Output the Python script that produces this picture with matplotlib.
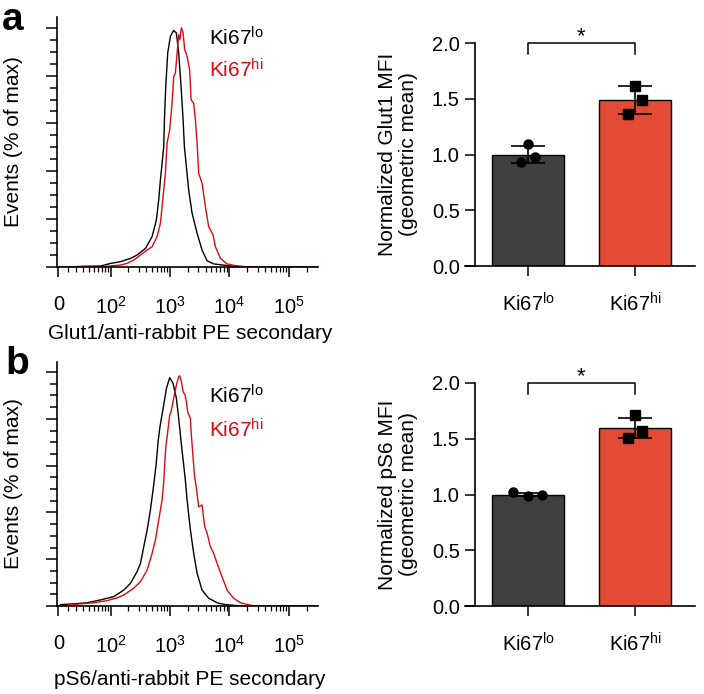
import numpy as np
import matplotlib
matplotlib.use("Agg")
import matplotlib.pyplot as plt
from matplotlib.ticker import FixedLocator, NullFormatter

plt.rcParams['font.family'] = ['Liberation Sans', 'DejaVu Sans']
plt.rcParams['mathtext.fontset'] = 'custom'
plt.rcParams['mathtext.rm'] = 'Liberation Sans'
plt.rcParams['mathtext.default'] = 'regular'

# ---- histogram data (fluorescence, % of max) ----
glut1_lo_x = [1, 10, 30, 66, 99, 146, 217, 281, 389, 503, 594, 650, 694, 741, 789, 811,
              853, 921, 1021, 1161, 1288, 1409, 1546, 1671, 1758, 1897, 2074, 2366,
              2873, 3483, 4230, 5461, 7940, 12640, 20000, 300000]
glut1_lo_y = [0, 0, 0.3, 0.4, 1.5, 2.2, 3.6, 5.0, 7.8, 12.7, 19.7, 28.0, 36.4, 43.4, 50.3, 61.5,
              75.4, 89.4, 96.4, 98.9, 97.8, 89.4, 75.4, 61.5, 50.3, 42.0, 32.2, 22.5,
              14.1, 7.1, 2.6, 1.3, 0.8, 0.2, 0, 0]
glut1_hi_x = [1, 30, 66, 146, 190, 246, 320, 415, 503, 611, 694, 771, 842, 900, 995, 1091,
              1161, 1239, 1355, 1409, 1476, 1564, 1671, 1778, 1875, 1950, 2157, 2277,
              2518, 2692, 2873, 3055, 3483, 3960, 4500, 5336, 5834, 7080, 9170, 11830,
              18620, 300000]
glut1_hi_y = [0, 0, 0.1, 0.8, 1.5, 2.9, 5.0, 7.1, 8.5, 12.7, 18.3, 29.4, 39.2, 51.8, 57.3, 68.5,
              79.6, 81.0, 92.2, 97.1, 95.0, 100, 97.8, 90.8, 89.4, 88.0, 82.4, 69.9,
              68.5, 61.5, 51.8, 39.2, 35.0, 25.2, 16.9, 13.4, 8.5, 3.6, 1.3, 0.7,
              0.1, 0]

ps6_lo_x = [1, 2.1, 16.8, 36.3, 65.7, 112, 167, 217, 281, 320, 364, 415, 471, 540, 587, 635,
            676, 721, 789, 876, 995, 1134, 1288, 1409, 1546, 1710, 1825, 1950, 2218,
            2518, 2873, 3483, 4500, 6226, 8036, 12640, 20000, 300000]
ps6_lo_y = [0, 0.6, 0.9, 1.4, 2.6, 4.0, 6.8, 9.7, 14.7, 18.2, 25.3, 32.5, 41.0, 52.5, 60.3, 70.2,
            75.9, 80.2, 85.9, 93.0, 97.6, 95.2, 88.8, 80.2, 70.2, 60.3, 53.8, 45.3, 32.5,
            22.5, 14.0, 6.8, 3.3, 1.4, 0.7, 0.2, 0, 0]
ps6_hi_x = [1, 25.7, 49.4, 86, 129, 167, 246, 320, 415, 503, 572, 650, 741, 794, 818, 853,
            921, 995, 1050, 1161, 1288, 1409, 1465, 1546, 1671, 1804, 1897, 1995, 2218,
            2277, 2421, 2588, 2795, 3055, 3483, 3852, 4230, 4806, 5461, 6226, 7553,
            9170, 11830, 15340, 19870, 26000, 300000]
ps6_hi_y = [0, 0.9, 1.4, 2.3, 3.5, 4.7, 7.6, 10.4, 15.4, 22.5, 28.2, 36.8, 45.3, 53.8, 60.3, 67.4,
            74.5, 81.6, 83.0, 88.8, 94.4, 98.0, 98.4, 96.6, 91.6, 90.2, 87.3, 83.0, 80.2,
            74.5, 65.9, 56.0, 50.3, 42.4, 43.2, 33.9, 31.1, 25.3, 22.5, 18.2, 12.5,
            6.8, 3.3, 1.4, 0.7, 0, 0]

hist_major = [0, 1e2, 1e3, 1e4, 1e5]
hist_major_labels = ['0', '$10^{2}$', '$10^{3}$', '$10^{4}$', '$10^{5}$']
hist_minor = [k * 10 ** n for n in range(1, 6) for k in range(1, 10)
              if k * 10 ** n not in hist_major and k * 10 ** n < 3e5]

# ---- bar chart data ----
groups = ['Ki67$^{lo}$', 'Ki67$^{hi}$']
glut1_mean = [1.00, 1.49]
glut1_sd = [0.08, 0.125]
glut1_pts = [[1.09, 0.93, 0.98], [1.61, 1.49, 1.36]]
ps6_mean = [1.00, 1.60]
ps6_sd = [0.015, 0.09]
ps6_pts = [[1.02, 0.99, 1.00], [1.71, 1.57, 1.51]]
glut1_offsets = [[0, -0.07, 0.07], [0, 0.065, -0.065]]
ps6_offsets = [[-0.14, 0, 0.13], [0, 0.065, -0.065]]

RED_LINE = '#dc0a14'
BAR_COLORS = ['#404040', '#e34b35']
FS = 15


def fwd(x):
    return np.arcsinh(np.asarray(x, dtype=float) / 26.8)


def inv(y):
    return 26.8 * np.sinh(y)


def draw_hist(ax, lo_x, lo_y, hi_x, hi_y, xlabel, lo_ypos, hi_ypos, xlab_y):
    ax.set_xscale('function', functions=(fwd, inv))
    ax.plot(lo_x, lo_y, color='black', lw=1.0)
    ax.plot(hi_x, hi_y, color=RED_LINE, lw=1.0)
    ax.set_xlim(-1.5, 3.1e5)
    ax.set_ylim(0, 104.5)
    ax.xaxis.set_major_locator(FixedLocator(hist_major))
    ax.set_xticklabels(hist_major_labels)
    ax.xaxis.set_minor_locator(FixedLocator(hist_minor))
    ax.xaxis.set_minor_formatter(NullFormatter())
    ax.yaxis.set_major_locator(FixedLocator(np.arange(0, 101, 20)))
    ax.yaxis.set_minor_locator(FixedLocator(np.arange(0, 101, 5)))
    ax.set_yticklabels([])
    ax.tick_params(axis='x', which='major', length=7.5, width=1.1, pad=13, labelsize=14.5)
    ax.tick_params(axis='x', which='minor', length=3.5, width=0.9)
    ax.tick_params(axis='y', which='major', length=8, width=1.1)
    ax.tick_params(axis='y', which='minor', length=5, width=1.1)
    for s in ['top', 'right']:
        ax.spines[s].set_visible(False)
    for s in ['left', 'bottom']:
        ax.spines[s].set_linewidth(1.2)
    ax.set_ylabel('Events (% of max)', fontsize=FS)
    ax.yaxis.set_label_coords(-0.13, 0.5)
    ax.set_xlabel(xlabel, fontsize=FS, va='top')
    ax.xaxis.set_label_coords(0.51, xlab_y)
    ax.text(0.582, lo_ypos, 'Ki67$^{lo}$', transform=ax.transAxes, fontsize=FS,
            color='black', va='baseline')
    ax.text(0.582, hi_ypos, 'Ki67$^{hi}$', transform=ax.transAxes, fontsize=FS,
            color=RED_LINE, va='baseline')


def draw_bars(ax, means, sds, pts, offsets, ylabel):
    xpos = np.arange(len(groups))
    ax.bar(xpos, means, width=0.67, color=BAR_COLORS, edgecolor='black', lw=1.0, zorder=2)
    ax.errorbar(xpos, means, yerr=sds, fmt='none', ecolor='black', elinewidth=1.2,
                capsize=12, capthick=1.2, zorder=3)
    markers = ['o', 's']
    for i in range(len(groups)):
        ax.plot(xpos[i] + np.array(offsets[i]), pts[i], linestyle='none',
                marker=markers[i], ms=6.5, color='black', zorder=4, clip_on=False)
    ax.set_xlim(-0.589, 1.561)
    ax.set_ylim(0, 2.0)
    ax.set_xticks(xpos)
    ax.set_xticklabels(groups)
    ax.set_yticks([0, 0.5, 1.0, 1.5, 2.0])
    ax.set_yticklabels(['0.0', '0.5', '1.0', '1.5', '2.0'])
    ax.tick_params(axis='x', length=7, width=1.1, pad=12, labelsize=14.5)
    ax.tick_params(axis='y', length=7, width=1.1, pad=4, labelsize=14.5)
    for s in ['top', 'right']:
        ax.spines[s].set_visible(False)
    ax.spines['left'].set_position(('axes', 10 / 230))
    for s in ['left', 'bottom']:
        ax.spines[s].set_linewidth(1.2)
    ax.set_ylabel(ylabel, fontsize=FS, linespacing=1.15)
    ax.yaxis.set_label_coords(-0.205, 0.5)
    # significance bracket
    ax.plot([0, 0, 1, 1], [1.905, 2.0, 2.0, 1.905], color='black', lw=1.1, clip_on=False)
    ax.text(0.5, 1.96, '*', ha='center', va='bottom', fontsize=16)


fig = plt.figure(figsize=(7.04, 6.94), dpi=100)

ax_ha = fig.add_axes([57 / 704, 1 - 267 / 694, 261 / 704, 250 / 694])
draw_hist(ax_ha, glut1_lo_x, glut1_lo_y, glut1_hi_x, glut1_hi_y,
          'Glut1/anti-rabbit PE secondary', 0.888, 0.756, -0.228)
ax_hb = fig.add_axes([57 / 704, 1 - 606 / 694, 261 / 704, 244.5 / 694])
draw_hist(ax_hb, ps6_lo_x, ps6_lo_y, ps6_hi_x, ps6_hi_y,
          'pS6/anti-rabbit PE secondary', 0.830, 0.691, -0.262)

ax_ba = fig.add_axes([465 / 704, 1 - 266 / 694, 230 / 704, 223 / 694])
draw_bars(ax_ba, glut1_mean, glut1_sd, glut1_pts, glut1_offsets,
          'Normalized Glut1 MFI\n(geometric mean)')
ax_bb = fig.add_axes([465 / 704, 1 - 606 / 694, 230 / 704, 223 / 694])
draw_bars(ax_bb, ps6_mean, ps6_sd, ps6_pts, ps6_offsets,
          'Normalized pS6 MFI\n(geometric mean)')

fig.text(0.002, 1 - 30 / 694, 'a', fontsize=28, fontweight='bold', va='baseline')
fig.text(0.008, 1 - 374 / 694, 'b', fontsize=28, fontweight='bold', va='baseline')

fig.savefig('out.png', dpi=100)
